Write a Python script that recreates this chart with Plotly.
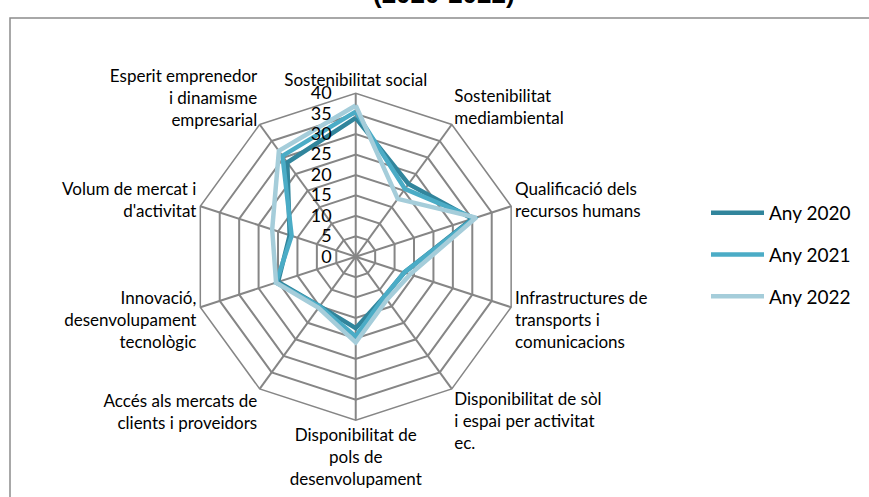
import plotly.graph_objects as go

# categories (clockwise from top)
categories = [
    "Sostenibilitat social",
    "Sostenibilitat<br>mediambiental",
    "Qualificació dels<br>recursos humans",
    "Infrastructures de<br>transports i<br>comunicacions",
    "Disponibilitat de sòl<br>i espai per activitat<br>ec.",
    "Disponibilitat de<br>pols de<br>desenvolupament",
    "Accés als mercats de<br>clients i proveidors",
    "Innovació,<br>desenvolupament<br>tecnològic",
    "Volum de mercat i<br>d'activitat",
    "Esperit emprenedor<br>i dinamisme<br>empresarial",
]

any_2020 = [34, 22, 30, 12.5, 12, 17.5, 15, 20, 17, 28.5]
any_2021 = [35.5, 20.5, 30.5, 12.5, 12, 19.5, 15, 20.5, 16.5, 30.5]
any_2022 = [37, 17.5, 31, 14, 13, 21, 15.5, 20.5, 21.5, 32]

radial_ticks = [0, 5, 10, 15, 20, 25, 30, 35, 40]

series = [
    ("Any 2020", any_2020, "#31859C"),
    ("Any 2021", any_2021, "#4BACC6"),
    ("Any 2022", any_2022, "#A5CDDA"),
]

fig = go.Figure()

for name, vals, color in series:
    fig.add_trace(go.Scatterpolar(
        r=vals + vals[:1],
        theta=categories + categories[:1],
        mode="lines",
        name=name,
        legendgroup=name,
        line=dict(color=color, width=4.5),
    ))

# radial labels sit to the left of the vertical spoke; pad them with
# figure spaces so they stop a little short of it, like the original
fs = "\u2007"
tick_text = [f"{v:>2}".replace(" ", fs) + fs * 2 for v in radial_ticks]

grid = "#868686"

fig.update_layout(
    width=869,
    height=497,
    margin=dict(l=0, r=0, t=0, b=0),
    paper_bgcolor="white",
    font=dict(family="Lato, Open Sans, sans-serif", color="black", size=14),
    polar=dict(
        domain=dict(x=[0.2213, 0.5974], y=[0.1547, 0.8123]),
        gridshape="linear",
        bgcolor="white",
        radialaxis=dict(
            range=[0, 40],
            tickmode="array",
            tickvals=radial_ticks,
            ticktext=tick_text,
            angle=90,
            tickangle=90,
            side="counterclockwise",
            showline=False,
            gridcolor=grid,
            gridwidth=1.5,
            ticks="",
            tickfont=dict(size=18),
        ),
        angularaxis=dict(
            direction="clockwise",
            rotation=90,
            showline=True,
            linecolor=grid,
            linewidth=1.5,
            gridcolor=grid,
            gridwidth=1.5,
            ticks="",
            tickfont=dict(size=17),
        ),
    ),
    legend=dict(
        x=706 / 869, xanchor="left",
        y=0.487, yanchor="middle",
        font=dict(size=19),
        itemwidth=53,
        tracegroupgap=14,
        bgcolor="rgba(0,0,0,0)",
    ),
    annotations=[dict(
        text="<b>(2020-2022)</b>",
        xref="paper", yref="paper",
        x=444 / 869, xanchor="center",
        y=1.0, yanchor="bottom", yshift=-11,
        showarrow=False,
        font=dict(size=26, family="Liberation Sans, Arial"),
    )],
    shapes=[dict(
        type="rect", xref="paper", yref="paper",
        x0=10 / 869, x1=1.05, y0=-0.1, y1=1 - 18 / 497,
        line=dict(color="#8C8C8C", width=1.5),
        fillcolor="rgba(0,0,0,0)",
        layer="below",
    )],
)

fig.write_html(
    "out.html",
    config={"displayModeBar": False},
    post_script="document.body.style.margin='0px';",
)
